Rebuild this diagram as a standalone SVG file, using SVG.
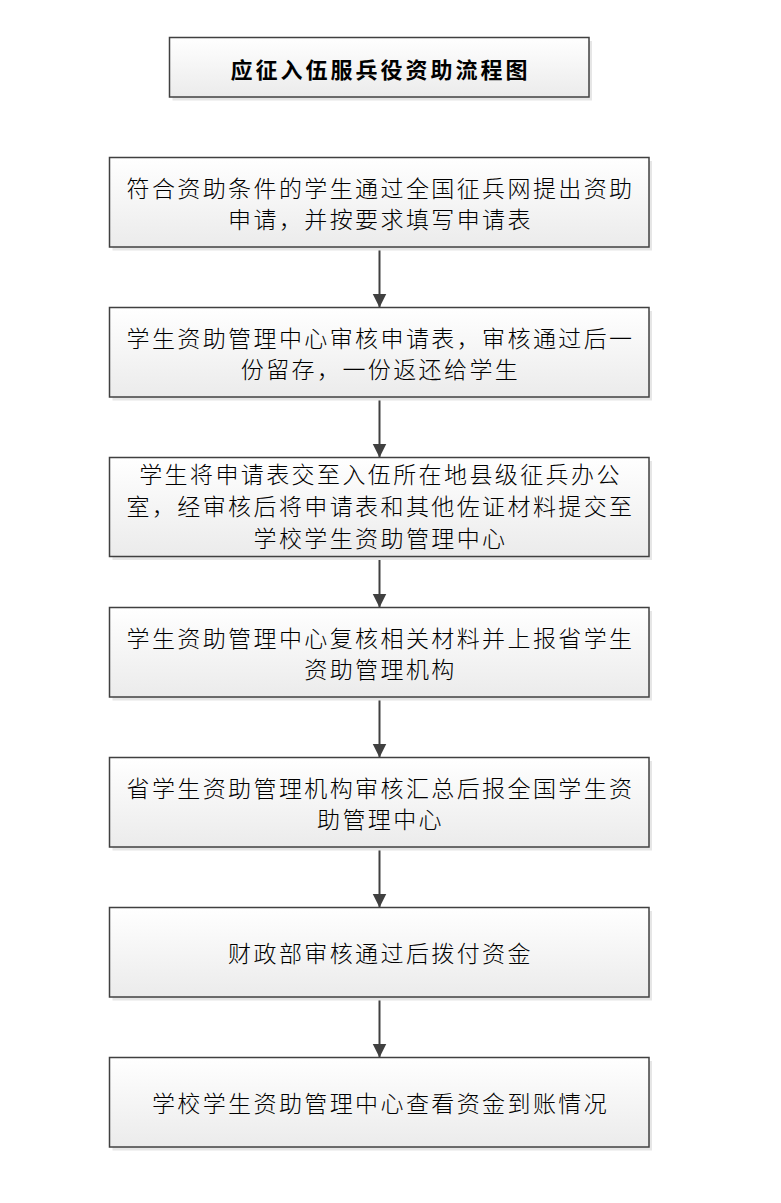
<svg xmlns="http://www.w3.org/2000/svg" width="781" height="1203" viewBox="0 0 781 1203">
  <style>
    .shadow { fill: #e6e6e6; }
    .box { fill: url(#grad); stroke: #404040; stroke-width: 1.5; }
    .txt { font-family: "Noto Sans CJK SC", "Liberation Serif", serif; font-size: 23px; font-weight: 300; letter-spacing: 2.4px; fill: #000; text-anchor: middle; dominant-baseline: central; }
    .title { font-family: "Noto Sans CJK SC", "Liberation Serif", serif; font-size: 22px; font-weight: 700; letter-spacing: 3px; fill: #000; text-anchor: middle; dominant-baseline: central; }
    .conn { stroke: #404040; stroke-width: 2; fill: none; marker-end: url(#arrow); }
  </style>
  <defs>
    <linearGradient id="grad" x1="0" y1="0" x2="0" y2="1">
      <stop offset="0" stop-color="#ffffff"/>
      <stop offset="1" stop-color="#ebebeb"/>
    </linearGradient>
    <marker id="arrow" markerWidth="14" markerHeight="15" refX="14" refY="7" orient="auto" markerUnits="userSpaceOnUse">
      <path d="M0,0 L14,7 L0,14 Z" fill="#404040"/>
    </marker>
  </defs>
  <rect width="781" height="1203" fill="#ffffff"/>

  <g id="connectors">
    <line class="conn" x1="379.5" y1="247" x2="379.5" y2="307.5"/>
    <line class="conn" x1="379.5" y1="397" x2="379.5" y2="457.5"/>
    <line class="conn" x1="379.5" y1="556.5" x2="379.5" y2="607.5"/>
    <line class="conn" x1="379.5" y1="697" x2="379.5" y2="757.5"/>
    <line class="conn" x1="379.5" y1="847" x2="379.5" y2="907.5"/>
    <line class="conn" x1="379.5" y1="997" x2="379.5" y2="1057.5"/>
  </g>

  <g id="title">
    <rect class="shadow" x="172.5" y="41" width="419.5" height="59.5"/>
    <rect class="box" x="169.5" y="37.5" width="419.5" height="59.5"/>
    <text class="title" x="380.5" y="67.5">应征入伍服兵役资助流程图</text>
  </g>

  <g id="step1">
    <rect class="shadow" x="112.5" y="161" width="539.5" height="89.5"/>
    <rect class="box" x="109.5" y="157.5" width="539.5" height="89.5"/>
    <text class="txt" x="380.5" y="186.5">符合资助条件的学生通过全国征兵网提出资助</text>
    <text class="txt" x="380.5" y="217.5">申请，并按要求填写申请表</text>
  </g>

  <g id="step2">
    <rect class="shadow" x="112.5" y="311" width="539.5" height="89.5"/>
    <rect class="box" x="109.5" y="307.5" width="539.5" height="89.5"/>
    <text class="txt" x="380.5" y="336.5">学生资助管理中心审核申请表，审核通过后一</text>
    <text class="txt" x="380.5" y="367.5">份留存，一份返还给学生</text>
  </g>

  <g id="step3">
    <rect class="shadow" x="112.5" y="461" width="539.5" height="99"/>
    <rect class="box" x="109.5" y="457.5" width="539.5" height="99"/>
    <text class="txt" x="380.5" y="473">学生将申请表交至入伍所在地县级征兵办公</text>
    <text class="txt" x="380.5" y="505">室，经审核后将申请表和其他佐证材料提交至</text>
    <text class="txt" x="380.5" y="537">学校学生资助管理中心</text>
  </g>

  <g id="step4">
    <rect class="shadow" x="112.5" y="611" width="539.5" height="89.5"/>
    <rect class="box" x="109.5" y="607.5" width="539.5" height="89.5"/>
    <text class="txt" x="380.5" y="636.5">学生资助管理中心复核相关材料并上报省学生</text>
    <text class="txt" x="380.5" y="667.5">资助管理机构</text>
  </g>

  <g id="step5">
    <rect class="shadow" x="112.5" y="761" width="539.5" height="89.5"/>
    <rect class="box" x="109.5" y="757.5" width="539.5" height="89.5"/>
    <text class="txt" x="380.5" y="786.5">省学生资助管理机构审核汇总后报全国学生资</text>
    <text class="txt" x="380.5" y="817.5">助管理中心</text>
  </g>

  <g id="step6">
    <rect class="shadow" x="112.5" y="911" width="539.5" height="89.5"/>
    <rect class="box" x="109.5" y="907.5" width="539.5" height="89.5"/>
    <text class="txt" x="380.5" y="951.5">财政部审核通过后拨付资金</text>
  </g>

  <g id="step7">
    <rect class="shadow" x="112.5" y="1061" width="539.5" height="89.5"/>
    <rect class="box" x="109.5" y="1057.5" width="539.5" height="89.5"/>
    <text class="txt" x="380.5" y="1102">学校学生资助管理中心查看资金到账情况</text>
  </g>
</svg>
